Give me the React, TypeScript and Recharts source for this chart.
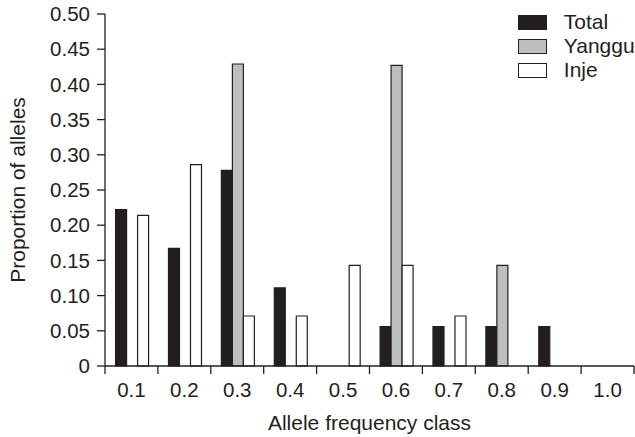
import { BarChart, Bar, XAxis, YAxis, Legend } from "recharts";

const categories = ["0.1", "0.2", "0.3", "0.4", "0.5", "0.6", "0.7", "0.8", "0.9", "1.0"];
const totalValues = [0.222, 0.167, 0.278, 0.111, 0, 0.056, 0.056, 0.056, 0.056, 0];
const yangguValues = [0, 0, 0.429, 0, 0, 0.427, 0, 0.143, 0, 0];
const injeValues = [0.214, 0.286, 0.071, 0.071, 0.143, 0.143, 0.071, 0, 0, 0];
const yTicks = [0, 0.05, 0.1, 0.15, 0.2, 0.25, 0.3, 0.35, 0.4, 0.45, 0.5];

const rows = categories.map((cls, i) => ({
  cls,
  total: totalValues[i],
  yanggu: yangguValues[i],
  inje: injeValues[i],
}));

const INK = "#231f20";
const FONT = '"Liberation Sans", Arial, Helvetica, sans-serif';

const series = [
  { key: "total", name: "Total", fill: INK },
  { key: "yanggu", name: "Yanggu", fill: "#bcbec0" },
  { key: "inje", name: "Inje", fill: "#ffffff" },
];

const WIDTH = 635;
const HEIGHT = 437;
const MARGIN = { top: 14, right: 1, left: 0, bottom: 0 };
const Y_AXIS_W = 105;
const X_AXIS_H = 71;
const BAND = (WIDTH - MARGIN.left - MARGIN.right - Y_AXIS_W) / categories.length;

const XTick = (props: any) => {
  const { x, y, payload, index } = props;
  const axisY = y - 10;
  const half = BAND / 2;
  return (
    <g>
      <line x1={x - half} x2={x - half} y1={axisY} y2={axisY + 8} stroke={INK} strokeWidth={1.3} />
      {index === categories.length - 1 && (
        <line x1={x + half} x2={x + half} y1={axisY} y2={axisY + 8} stroke={INK} strokeWidth={1.3} />
      )}
      <text x={x} y={y} dy={20.7} textAnchor="middle" fill={INK} fontSize={20.5} fontFamily={FONT}>
        {payload.value}
      </text>
    </g>
  );
};

const YTitle = ({ viewBox }: any) => {
  const cx = viewBox.x + 25;
  const cy = viewBox.y + viewBox.height / 2;
  return (
    <text
      x={cx}
      y={cy}
      transform={`rotate(-90, ${cx}, ${cy})`}
      textAnchor="middle"
      fill={INK}
      fontSize={21}
      fontFamily={FONT}
    >
      Proportion of alleles
    </text>
  );
};

const XTitle = ({ viewBox }: any) => (
  <text
    x={viewBox.x + viewBox.width / 2}
    y={430}
    textAnchor="middle"
    fill={INK}
    fontSize={21}
    fontFamily={FONT}
  >
    Allele frequency class
  </text>
);

// legend drawn in series order (recharts would sort it by name)
const LegendBox = () => (
  <div style={{ fontFamily: FONT, fontSize: 21, color: INK }}>
    {series.map((s) => (
      <div key={s.key} style={{ display: "flex", alignItems: "center", height: 24.2, lineHeight: "24.2px" }}>
        <span
          style={{
            display: "inline-block",
            boxSizing: "border-box",
            width: 29,
            height: 15,
            background: s.fill,
            border: `1.3px solid ${INK}`,
          }}
        />
        <span style={{ marginLeft: 16.5, whiteSpace: "nowrap" }}>{s.name}</span>
      </div>
    ))}
  </div>
);

export default function App() {
  return (
    <div style={{ position: "absolute", left: 0, top: 0, width: WIDTH, height: HEIGHT, background: "#fff" }}>
      <BarChart
        width={WIDTH}
        height={HEIGHT}
        data={rows}
        margin={MARGIN}
        barCategoryGap="20%"
        barGap={0}
      >
        <XAxis
          dataKey="cls"
          height={X_AXIS_H}
          interval={0}
          tickLine={false}
          tickSize={8}
          tickMargin={2}
          axisLine={{ stroke: INK, strokeWidth: 1.3 }}
          tick={<XTick />}
          label={<XTitle />}
        />
        <YAxis
          width={Y_AXIS_W}
          domain={[0, 0.5]}
          ticks={yTicks}
          interval={0}
          tickSize={8}
          tickMargin={7}
          tickFormatter={(v: number) => (v === 0 ? "0" : v.toFixed(2))}
          tick={{ fill: INK, fontSize: 20.5, fontFamily: FONT }}
          tickLine={{ stroke: INK, strokeWidth: 1.3 }}
          axisLine={{ stroke: INK, strokeWidth: 1.3 }}
          label={<YTitle />}
        />
        <Legend
          layout="vertical"
          verticalAlign="middle"
          align="center"
          content={<LegendBox />}
          wrapperStyle={{ position: "absolute", top: 10, left: 518.3, width: 117, height: 75 }}
        />
        {series.map((s) => (
          <Bar
            key={s.key}
            dataKey={s.key}
            name={s.name}
            fill={s.fill}
            stroke={INK}
            strokeWidth={1.2}
            isAnimationActive={false}
          />
        ))}
      </BarChart>
    </div>
  );
}
